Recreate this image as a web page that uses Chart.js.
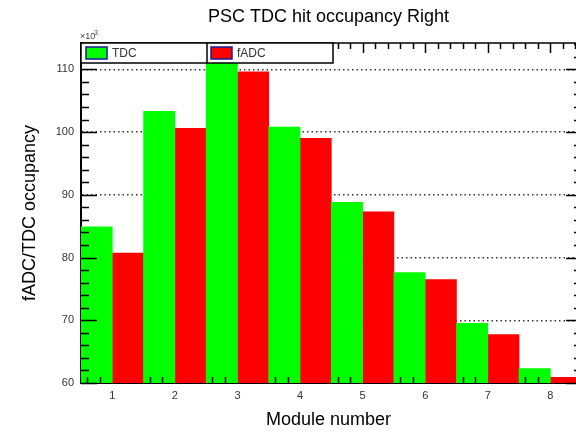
<!DOCTYPE html>
<html>
<head>
<meta charset="utf-8">
<script src="https://cdn.jsdelivr.net/npm/chart.js@4"></script>
<style>
  body { margin: 0; background: #fff; }
  canvas { display: block; }
</style>
</head>
<body>
<canvas id="myChart" width="576" height="433"></canvas>
<script>
// PSC TDC hit occupancy, right side (values in units of 10^3)
const modules = [1, 2, 3, 4, 5, 6, 7, 8];
const tdcHits = [84.9, 103.3, 111.6, 100.8, 88.8, 77.6, 69.5, 62.3];
const fadcHits = [80.7, 100.6, 109.6, 99.0, 87.3, 76.5, 67.7, 60.9];
const yTicks = [60, 70, 80, 90, 100, 110];
const seriesNames = ['TDC', 'fADC'];

const FONT = "'Liberation Sans', Arial, sans-serif";
const ctx = document.getElementById('myChart');

// ROOT style frame: ticks, legend box and the x10^3 exponent
const rootFrame = {
  id: 'rootFrame',
  afterDatasetsDraw(chart) {
    const c = chart.ctx;
    const a = chart.chartArea;
    const xs = chart.scales.x;
    const ys = chart.scales.y;
    c.save();
    c.strokeStyle = '#000';
    c.lineWidth = 1.5;

    // left + right y ticks
    for (let v = 60; v <= ys.max; v += 2) {
      const y = Math.round(ys.getPixelForValue(v)) + 0.5;
      const len = v % 10 === 0 ? 16 : 8;
      c.beginPath();
      c.moveTo(a.left, y); c.lineTo(a.left + len, y);
      c.moveTo(582, y); c.lineTo(582 - len, y);
      c.stroke();
    }
    // top x ticks
    for (let k = 3; k * 0.2 <= xs.max; k++) {
      const v = k * 0.2;
      const x = Math.round(xs.getPixelForValue(v)) + 0.5;
      const len = k % 5 === 0 ? 10 : 6;
      c.beginPath();
      c.moveTo(x, a.top); c.lineTo(x, a.top + len);
      c.stroke();
    }
    // bottom x ticks (only the ones left visible)
    modules.forEach(m => {
      [m - 0.4, m - 0.2].forEach(v => {
        const x = Math.round(xs.getPixelForValue(v)) + 0.5;
        c.beginPath();
        c.moveTo(x, a.bottom); c.lineTo(x, a.bottom - 6);
        c.stroke();
      });
    });
    // top frame line
    c.beginPath();
    c.moveTo(a.left, a.top); c.lineTo(a.right, a.top);
    c.stroke();

    // legend
    const lx = a.left, ly = a.top, lw = 252, lh = 20, mid = 207;
    c.fillStyle = '#fff';
    c.fillRect(lx, ly, lw, lh);
    c.strokeRect(lx, ly, lw, lh);
    c.beginPath();
    c.moveTo(mid, ly); c.lineTo(mid, ly + lh);
    c.stroke();
    const cols = [lx + 5, mid + 4];
    chart.data.datasets.forEach((ds, i) => {
      c.fillStyle = ds.backgroundColor;
      c.fillRect(cols[i], ly + 4, 21, 12);
      c.strokeStyle = '#1a1a9a';
      c.lineWidth = 1.5;
      c.strokeRect(cols[i], ly + 4, 21, 12);
      c.fillStyle = '#333';
      c.font = '12px ' + FONT;
      c.textBaseline = 'middle';
      c.textAlign = 'left';
      c.fillText(ds.label, cols[i] + 26, ly + lh / 2 + 0.5);
    });

    // exponent
    c.fillStyle = '#444';
    c.font = '9px ' + FONT;
    c.textBaseline = 'alphabetic';
    c.fillText('\u00d710', 80, 39);
    c.font = '7px ' + FONT;
    c.fillText('3', 94, 35);
    c.restore();
  }
};

new Chart(ctx, {
  type: 'bar',
  data: {
    datasets: [{
      label: seriesNames[0],
      data: modules.map((m, i) => ({ x: m, y: tdcHits[i] })),
      backgroundColor: '#00ff00',
      borderWidth: 0
    },
    {
      label: seriesNames[1],
      data: modules.map((m, i) => ({ x: m, y: fadcHits[i] })),
      backgroundColor: '#ff0000',
      borderWidth: 0
    }]
  },
  options: {
    responsive: false,
    animation: false,
    devicePixelRatio: 1,
    barPercentage: 1,
    categoryPercentage: 1,
    layout: { padding: 0 },
    plugins: {
      legend: { display: false },
      tooltip: { enabled: false },
      title: {
        display: true,
        fullSize: false,
        text: 'PSC TDC hit occupancy Right',
        color: '#000',
        font: { family: FONT, size: 18, weight: 'normal' },
        padding: { top: 6, bottom: 15.4 }
      }
    },
    scales: {
      x: {
        type: 'linear',
        offset: false,
        min: 0.5,
        max: 8.41,
        afterBuildTicks: s => { s.ticks = modules.map(v => ({ value: v })); },
        afterFit: s => { s.height = 50; },
        grid: { display: false, offset: false, drawTicks: false },
        border: { color: '#000', width: 2 },
        ticks: { padding: 6, color: '#333', font: { family: FONT, size: 11 } },
        title: {
          display: true,
          text: 'Module number',
          color: '#000',
          font: { family: FONT, size: 18 },
          padding: { top: 0, bottom: 2 }
        }
      },
      y: {
        min: 60,
        max: 114.2,
        afterBuildTicks: s => { s.ticks = yTicks.map(v => ({ value: v })); },
        afterFit: s => { s.width = 81; },
        grid: {
          color: '#333',
          lineWidth: 1.5,
          drawTicks: false
        },
        border: { color: '#000', width: 2, dash: [1.5, 3] },
        ticks: { padding: 7, color: '#333', font: { family: FONT, size: 11 } },
        title: {
          display: true,
          text: 'fADC/TDC occupancy',
          color: '#000',
          font: { family: FONT, size: 18 },
          padding: { top: 19, bottom: 0 }
        }
      }
    }
  },
  plugins: [rootFrame]
});
</script>
</body>
</html>
